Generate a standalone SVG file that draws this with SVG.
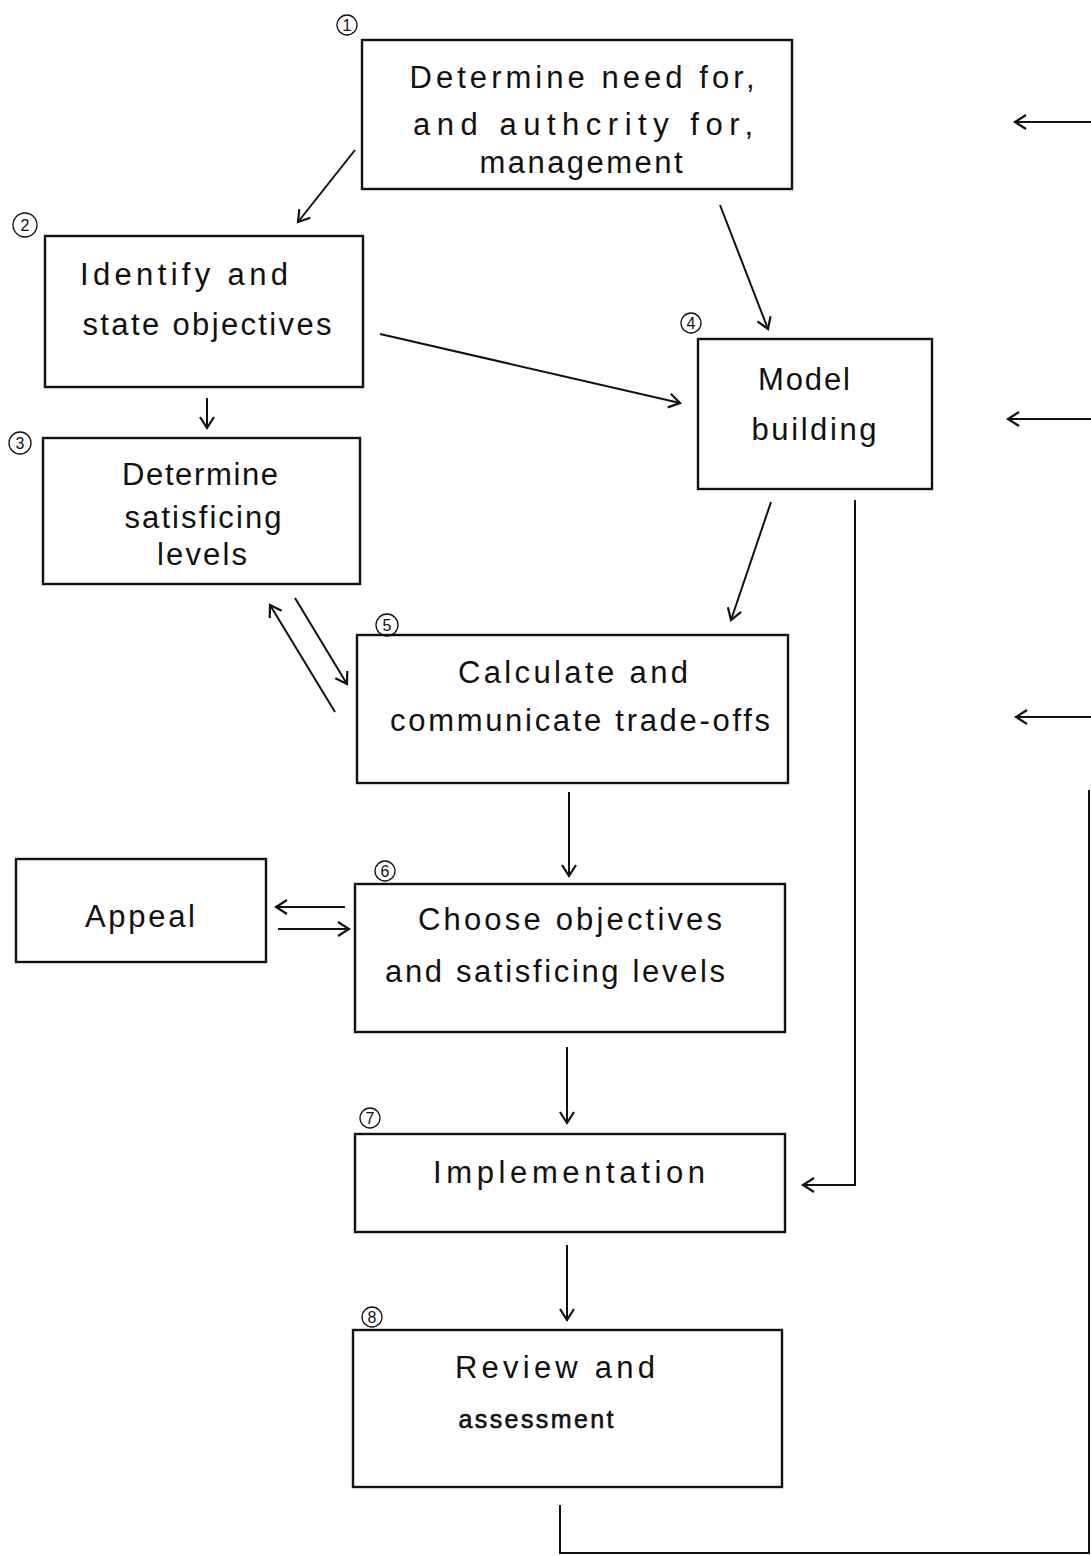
<svg xmlns="http://www.w3.org/2000/svg" width="1091" height="1556" viewBox="0 0 1091 1556">
<style>
.box{fill:#fff;stroke:#111;stroke-width:2.4}
.lbl{font-family:"Liberation Sans","DejaVu Sans",sans-serif;font-size:31px;fill:#111;text-anchor:middle}
.sm{font-size:25px;stroke:#111;stroke-width:0.6}
.num{font-family:"Liberation Sans","DejaVu Sans",sans-serif;font-size:16px;fill:#111;text-anchor:middle}
.nc{fill:none;stroke:#111;stroke-width:1.3}
.ln{fill:none;stroke:#111;stroke-width:2}
.ar{fill:none;stroke:#111;stroke-width:2;marker-end:url(#ah)}
</style>
<defs>
<marker id="ah" markerUnits="userSpaceOnUse" markerWidth="16" markerHeight="16" refX="13" refY="8" orient="auto">
<path d="M2,1 L13,8 L2,15" fill="none" stroke="#111" stroke-width="2.2"/>
</marker>
</defs>
<rect width="1091" height="1556" fill="#fff"/>

<g id="node1">
<rect class="box" x="362" y="40" width="430" height="149"/>
<circle class="nc" cx="347" cy="25" r="10"/><text class="num" x="347" y="31">1</text>
<text class="lbl" x="582" y="88" textLength="345" lengthAdjust="spacing">Determine need for,</text>
<text class="lbl" x="583" y="135" textLength="340" lengthAdjust="spacing">and authcrity for,</text>
<text class="lbl" x="581" y="173" textLength="203" lengthAdjust="spacing">management</text>
</g>
<g id="node2">
<rect class="box" x="45" y="236" width="318" height="151"/>
<circle class="nc" cx="25" cy="225" r="12"/><text class="num" x="25" y="231">2</text>
<text class="lbl" x="184" y="285" textLength="208" lengthAdjust="spacing">Identify and</text>
<text class="lbl" x="207" y="335" textLength="249" lengthAdjust="spacing">state objectives</text>
</g>
<g id="node3">
<rect class="box" x="43" y="438" width="317" height="146"/>
<circle class="nc" cx="20" cy="443" r="11"/><text class="num" x="20" y="449">3</text>
<text class="lbl" x="200" y="485" textLength="156" lengthAdjust="spacing">Determine</text>
<text class="lbl" x="203" y="528" textLength="157" lengthAdjust="spacing">satisficing</text>
<text class="lbl" x="202" y="565" textLength="90" lengthAdjust="spacing">levels</text>
</g>
<g id="node4">
<rect class="box" x="698" y="339" width="234" height="150"/>
<circle class="nc" cx="691" cy="323" r="10"/><text class="num" x="691" y="329">4</text>
<text class="lbl" x="804" y="390" textLength="92" lengthAdjust="spacing">Model</text>
<text class="lbl" x="814" y="440" textLength="125" lengthAdjust="spacing">building</text>
</g>
<g id="node5">
<rect class="box" x="357" y="635" width="431" height="148"/>
<circle class="nc" cx="387" cy="625" r="11"/><text class="num" x="387" y="631">5</text>
<text class="lbl" x="573" y="683" textLength="230" lengthAdjust="spacing">Calculate and</text>
<text class="lbl" x="580" y="731" textLength="380" lengthAdjust="spacing">communicate trade-offs</text>
</g>
<g id="node6">
<rect class="box" x="355" y="884" width="430" height="148"/>
<circle class="nc" cx="385" cy="871" r="10"/><text class="num" x="385" y="877">6</text>
<text class="lbl" x="570" y="930" textLength="304" lengthAdjust="spacing">Choose objectives</text>
<text class="lbl" x="555" y="982" textLength="340" lengthAdjust="spacing">and satisficing levels</text>
</g>
<g id="appeal">
<rect class="box" x="16" y="859" width="250" height="103"/>
<text class="lbl" x="140" y="927" textLength="110" lengthAdjust="spacing">Appeal</text>
</g>
<g id="node7">
<rect class="box" x="355" y="1134" width="430" height="98"/>
<circle class="nc" cx="370" cy="1118" r="10"/><text class="num" x="370" y="1124">7</text>
<text class="lbl" x="569" y="1183" textLength="272" lengthAdjust="spacing">Implementation</text>
</g>
<g id="node8">
<rect class="box" x="353" y="1330" width="429" height="157"/>
<circle class="nc" cx="372" cy="1317" r="10"/><text class="num" x="372" y="1323">8</text>
<text class="lbl" x="555" y="1378" textLength="200" lengthAdjust="spacing">Review and</text>
<text class="lbl sm" x="536" y="1428" textLength="155" lengthAdjust="spacing">assessment</text>
</g>

<g id="connectors">
<path class="ar" d="M355,150 L298,222"/>
<path class="ar" d="M720,205 L768,329"/>
<path class="ar" d="M380,334 L680,403"/>
<path class="ar" d="M207,398 L207,428"/>
<path class="ar" d="M771,502 L731,620"/>
<path class="ar" d="M295,598 L347,684"/>
<path class="ar" d="M335,712 L270,605"/>
<path class="ar" d="M569,792 L569,876"/>
<path class="ar" d="M345,907 L276,907"/>
<path class="ar" d="M278,929 L349,929"/>
<path class="ar" d="M567,1047 L567,1123"/>
<path class="ar" d="M855,500 L855,1185 L803,1185"/>
<path class="ar" d="M567,1245 L567,1320"/>
<path class="ln" d="M560,1505 L560,1553 L1089,1553 L1089,790"/>
<path class="ar" d="M1091,122 L1015,122"/>
<path class="ar" d="M1091,419 L1008,419"/>
<path class="ar" d="M1091,717 L1016,717"/>
</g>
</svg>
